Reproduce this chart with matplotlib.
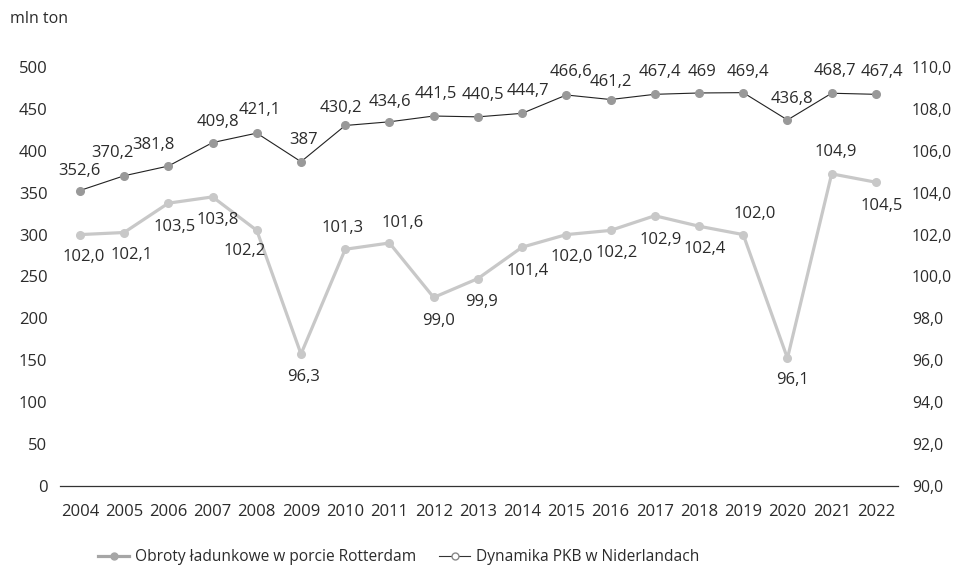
import numpy as np
import matplotlib.pyplot as plt
from matplotlib.lines import Line2D
from matplotlib.ticker import FuncFormatter

plt.rcParams['font.family'] = ['Open Sans', 'DejaVu Sans']

years = list(range(2004, 2023))
cargo = [352.6, 370.2, 381.8, 409.8, 421.1, 387, 430.2, 434.6, 441.5, 440.5,
         444.7, 466.6, 461.2, 467.4, 469, 469.4, 436.8, 468.7, 467.4]
gdp = [102.0, 102.1, 103.5, 103.8, 102.2, 96.3, 101.3, 101.6, 99.0, 99.9,
       101.4, 102.0, 102.2, 102.9, 102.4, 102.0, 96.1, 104.9, 104.5]

cargo_labels = ['352,6', '370,2', '381,8', '409,8', '421,1', '387', '430,2', '434,6',
                '441,5', '440,5', '444,7', '466,6', '461,2', '467,4', '469', '469,4',
                '436,8', '468,7', '467,4']
gdp_labels = ['%.1f' % v for v in gdp]
gdp_labels = [s.replace('.', ',') for s in gdp_labels]

legend_cargo = 'Obroty ładunkowe w porcie Rotterdam'
legend_gdp = 'Dynamika PKB w Niderlandach'

txt = '#2b2b2b'
fs = 12

# label offsets in pixels (dx, dy) relative to each point
cargo_off = [(0, 20), (-12, 23), (-15, 21), (5, 21), (3, 23), (3, 22), (-4, 17), (0, 20),
             (2, 22), (5, 22), (6, 22), (5, 23), (0, 18), (5, 22), (3, 21), (5, 21),
             (4, 21), (3, 22), (6, 22)]
gdp_off = [(4, -22), (7, -22), (6, -24), (5, -23), (-12, -21), (3, -23), (-3, 21), (13, 20),
           (5, -24), (4, -23), (6, -24), (5, -22), (6, -23), (6, -24), (6, -23), (11, 21),
           (5, -22), (4, 22), (6, -24)]

fig = plt.figure(figsize=(9.56, 5.7), dpi=100)
ax = fig.add_axes([60 / 956, 84 / 570, 838 / 956, 419 / 570])
ax2 = ax.twinx()

ax2.plot(years, gdp, color='#c8c8c8', lw=2.3, marker='o', ms=5.5,
         markerfacecolor='#c8c8c8', markeredgecolor='#c8c8c8', zorder=2)
ax.plot(years, cargo, color='#222222', lw=0.8, marker='o', ms=5.5,
        markerfacecolor='#999999', markeredgecolor='#999999', zorder=3)

for x, y, s, (dx, dy) in zip(years, cargo, cargo_labels, cargo_off):
    ax.annotate(s, (x, y), xytext=(dx, dy), textcoords='offset pixels',
                ha='center', va='center', fontsize=fs, color=txt)
for x, y, s, (dx, dy) in zip(years, gdp, gdp_labels, gdp_off):
    ax2.annotate(s, (x, y), xytext=(dx, dy), textcoords='offset pixels',
                 ha='center', va='center', fontsize=fs, color=txt)

ax.set_zorder(ax2.get_zorder() + 1)
ax.patch.set_visible(False)

ax.set_xlim(2003.55, 2022.5)
ax.set_ylim(0, 500)
ax2.set_ylim(90, 110)
ax.set_xticks(years)
ax.set_yticks(np.arange(0, 501, 50))
ax2.set_yticks(np.arange(90, 111, 2))
ax2.yaxis.set_major_formatter(FuncFormatter(lambda v, p: ('%.1f' % v).replace('.', ',')))

for a in (ax, ax2):
    for sp in a.spines.values():
        sp.set_visible(False)
    a.tick_params(length=0, labelsize=fs, labelcolor=txt)
ax.spines['bottom'].set_visible(True)
ax.spines['bottom'].set_color('#333333')
ax.spines['bottom'].set_linewidth(0.9)
ax.tick_params(axis='y', pad=9)
ax.tick_params(axis='x', pad=13)
ax2.tick_params(axis='y', pad=10, labelsize=11.3)

fig.text(10 / 956, 1 - 19 / 570, 'mln ton', fontsize=11.5, color=txt, va='center', ha='left')

handles = [
    Line2D([], [], color='#a6a6a6', lw=2.3, marker='o', ms=5,
           markerfacecolor='#a6a6a6', markeredgecolor='#a6a6a6'),
    Line2D([], [], color='#333333', lw=0.8, marker='o', ms=5,
           markerfacecolor='white', markeredgecolor='#888888'),
]
fig.legend(handles, [legend_cargo, legend_gdp], loc='center left',
           bbox_to_anchor=(92 / 956, 1 - 557 / 570), ncol=2, frameon=False,
           fontsize=11.2, labelcolor=txt, handlelength=2.0, handletextpad=0.35,
           columnspacing=1.5, borderaxespad=0)

fig.savefig('out.png', dpi=100)
